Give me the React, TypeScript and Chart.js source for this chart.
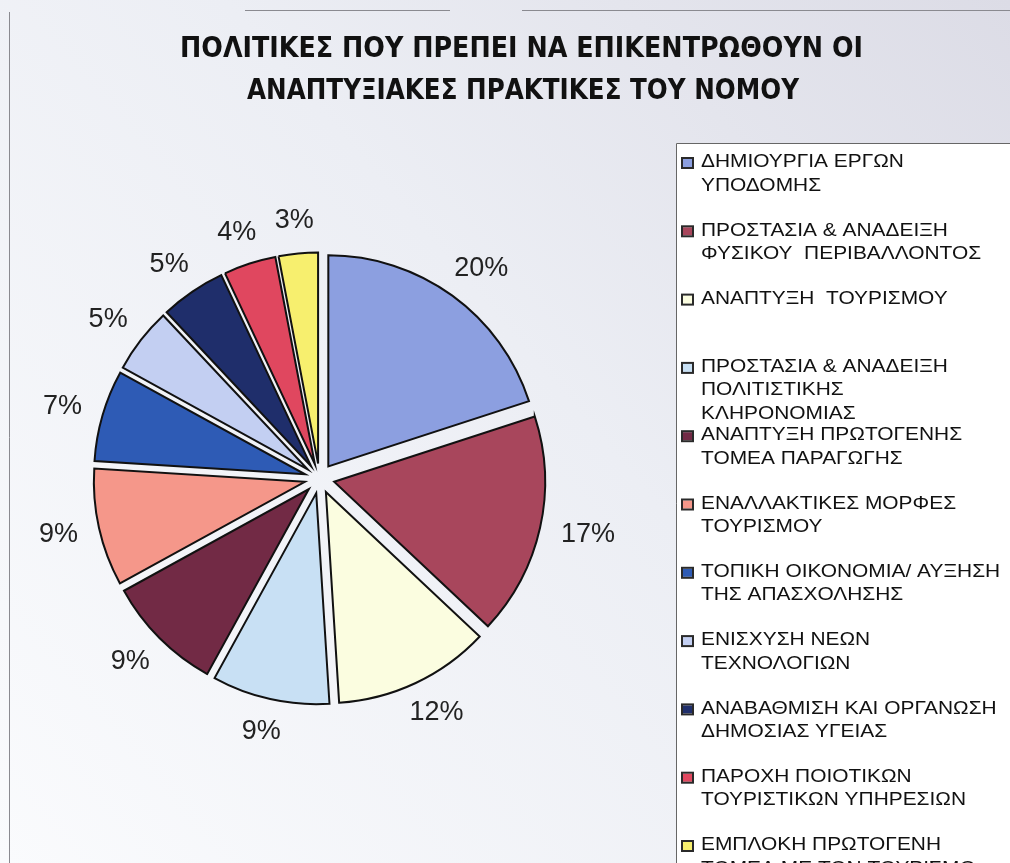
import React, { useEffect, useRef } from "react";
import { Chart, registerables } from "chart.js";

Chart.register(...registerables);

const titleLines = [
  "ΠΟΛΙΤΙΚΕΣ ΠΟΥ ΠΡΕΠΕΙ ΝΑ ΕΠΙΚΕΝΤΡΩΘΟΥΝ ΟΙ",
  "ΑΝΑΠΤΥΞΙΑΚΕΣ ΠΡΑΚΤΙΚΕΣ ΤΟΥ ΝΟΜΟΥ",
];

const categories: string[][] = [
  ["ΔΗΜΙΟΥΡΓΙΑ ΕΡΓΩΝ", "ΥΠΟΔΟΜΗΣ"],
  ["ΠΡΟΣΤΑΣΙΑ & ΑΝΑΔΕΙΞΗ", "ΦΥΣΙΚΟΥ  ΠΕΡΙΒΑΛΛΟΝΤΟΣ"],
  ["ΑΝΑΠΤΥΞΗ  ΤΟΥΡΙΣΜΟΥ"],
  ["ΠΡΟΣΤΑΣΙΑ & ΑΝΑΔΕΙΞΗ", "ΠΟΛΙΤΙΣΤΙΚΗΣ", "ΚΛΗΡΟΝΟΜΙΑΣ"],
  ["ΑΝΑΠΤΥΞΗ ΠΡΩΤΟΓΕΝΗΣ", "ΤΟΜΕΑ ΠΑΡΑΓΩΓΗΣ"],
  ["ΕΝΑΛΛΑΚΤΙΚΕΣ ΜΟΡΦΕΣ", "ΤΟΥΡΙΣΜΟΥ"],
  ["ΤΟΠΙΚΗ ΟΙΚΟΝΟΜΙΑ/ ΑΥΞΗΣΗ", "ΤΗΣ ΑΠΑΣΧΟΛΗΣΗΣ"],
  ["ΕΝΙΣΧΥΣΗ ΝΕΩΝ", "ΤΕΧΝΟΛΟΓΙΩΝ"],
  ["ΑΝΑΒΑΘΜΙΣΗ ΚΑΙ ΟΡΓΑΝΩΣΗ", "ΔΗΜΟΣΙΑΣ ΥΓΕΙΑΣ"],
  ["ΠΑΡΟΧΗ ΠΟΙΟΤΙΚΩΝ", "ΤΟΥΡΙΣΤΙΚΩΝ ΥΠΗΡΕΣΙΩΝ"],
  ["ΕΜΠΛΟΚΗ ΠΡΩΤΟΓΕΝΗ", "ΤΟΜΕΑ ΜΕ ΤΟΝ ΤΟΥΡΙΣΜΟ"],
];

const values = [20, 17, 12, 9, 9, 9, 7, 5, 5, 4, 3];

const sliceColors = [
  "#8c9fe0",
  "#a8465c",
  "#fbfde0",
  "#c8e0f4",
  "#722a45",
  "#f5978a",
  "#2e5bb5",
  "#c3cff2",
  "#1f2e6b",
  "#e0475f",
  "#f7ef6e",
];

const W = 1010;
const H = 863;
const EXPLODE = 15;

const backgroundPlugin = {
  id: "bg",
  beforeDraw(chart: any) {
    const ctx = chart.ctx as CanvasRenderingContext2D;
    ctx.save();
    const g = ctx.createLinearGradient(W, 0, 0, H);
    g.addColorStop(0, "#dcdce6");
    g.addColorStop(0.45, "#eceef4");
    g.addColorStop(1, "#fafbfd");
    ctx.fillStyle = g;
    ctx.fillRect(0, 0, W, H);

    // frame lines
    ctx.strokeStyle = "#8a8a90";
    ctx.lineWidth = 1;
    ctx.beginPath();
    ctx.moveTo(9.5, 12);
    ctx.lineTo(9.5, H);
    ctx.moveTo(245, 10.5);
    ctx.lineTo(450, 10.5);
    ctx.moveTo(522, 10.5);
    ctx.lineTo(W, 10.5);
    ctx.stroke();

    // legend box
    ctx.fillStyle = "#ffffff";
    ctx.fillRect(676, 143, W - 676, H - 143);
    ctx.strokeStyle = "#666";
    ctx.beginPath();
    ctx.moveTo(676.5, H);
    ctx.lineTo(676.5, 143.5);
    ctx.lineTo(W, 143.5);
    ctx.stroke();

    // title
    ctx.fillStyle = "#111";
    ctx.textAlign = "center";
    ctx.textBaseline = "middle";
    ctx.font = "bold 28px 'DejaVu Sans Condensed'";
    const specs = [
      { cx: 521.5, cy: 50, w: 683 },
      { cx: 523, cy: 92, w: 552 },
    ];
    titleLines.forEach((t, i) => {
      const s = specs[i];
      const m = ctx.measureText(t).width;
      ctx.save();
      ctx.translate(s.cx, s.cy);
      ctx.scale(s.w / m, 1);
      ctx.fillText(t, 0, 0);
      ctx.restore();
    });
    ctx.restore();
  },
};

const explodePlugin = {
  id: "explode",
  beforeDatasetDraw(chart: any, args: any) {
    const ctx = chart.ctx as CanvasRenderingContext2D;
    args.meta.data.forEach((arc: any) => {
      const mid = (arc.startAngle + arc.endAngle) / 2;
      ctx.save();
      ctx.translate(Math.cos(mid) * EXPLODE, Math.sin(mid) * EXPLODE);
      arc.draw(ctx, chart.chartArea);
      ctx.restore();
    });
    return false;
  },
};

const labelsPlugin = {
  id: "pctLabels",
  afterDatasetsDraw(chart: any) {
    const ctx = chart.ctx as CanvasRenderingContext2D;
    const meta = chart.getDatasetMeta(0);
    const data = chart.data.datasets[0].data as number[];
    ctx.save();
    ctx.font = "27px 'Liberation Sans'";
    ctx.fillStyle = "#222";
    ctx.textAlign = "center";
    ctx.textBaseline = "middle";
    meta.data.forEach((arc: any, i: number) => {
      const mid = (arc.startAngle + arc.endAngle) / 2;
      const c = Math.cos(mid);
      const s = Math.sin(mid);
      const text = data[i] + "%";
      const w = ctx.measureText(text).width;
      const h = 22;
      const d = arc.outerRadius + EXPLODE + 22;
      const x = arc.x + c * d + (c * w) / 2;
      const y = arc.y + s * d + (s * h) / 2;
      ctx.fillText(text, x, y);
    });
    ctx.restore();
  },
};

const legendPlugin = {
  id: "customLegend",
  afterDraw(chart: any) {
    const ctx = chart.ctx as CanvasRenderingContext2D;
    const labels = chart.data.labels as string[][];
    const colors = chart.data.datasets[0].backgroundColor as string[];
    ctx.save();
    ctx.font = "19px 'Liberation Sans'";
    ctx.textAlign = "left";
    ctx.textBaseline = "middle";
    const top = 162;
    const step = 68.3;
    const lineH = 23.3;
    labels.forEach((lines, i) => {
      const y0 = top + i * step;
      ctx.fillStyle = colors[i];
      ctx.fillRect(683, y0 - 3, 9, 8);
      ctx.strokeStyle = "#2a2a2a";
      ctx.lineWidth = 2;
      ctx.strokeRect(682, y0 - 4, 11, 10);
      ctx.fillStyle = "#111";
      lines.forEach((ln, j) => {
        ctx.save();
        ctx.translate(701, y0 + j * lineH);
        ctx.scale(1.1, 1);
        ctx.fillText(ln, 0, 0);
        ctx.restore();
      });
    });
    ctx.restore();
  },
};

export default function App() {
  const ref = useRef<HTMLCanvasElement | null>(null);

  useEffect(() => {
    document.body.style.margin = "0";
    const canvas = ref.current;
    if (!canvas) return;
    const cx = 319.5;
    const cy = 478.5;
    const half = 260;
    const chart = new Chart(canvas, {
      type: "pie",
      data: {
        labels: categories,
        datasets: [
          {
            data: values,
            backgroundColor: sliceColors,
            borderColor: "#111111",
            borderWidth: 2,
            borderJoinStyle: "miter",
            radius: 211,
            offset: 0,
          } as any,
        ],
      },
      options: {
        animation: false,
        responsive: false,
        devicePixelRatio: 1,
        layout: {
          padding: {
            left: cx - half,
            right: W - (cx + half),
            top: cy - half,
            bottom: H - (cy + half),
          },
        },
        plugins: {
          legend: { display: false },
          title: { display: false },
          tooltip: { enabled: false },
        },
      },
      plugins: [backgroundPlugin, explodePlugin, labelsPlugin, legendPlugin],
    });
    return () => chart.destroy();
  }, []);

  return (
    <div style={{ position: "absolute", left: 0, top: 0, width: W, height: H }}>
      <canvas ref={ref} width={W} height={H} style={{ display: "block", width: W, height: H }} />
    </div>
  );
}
